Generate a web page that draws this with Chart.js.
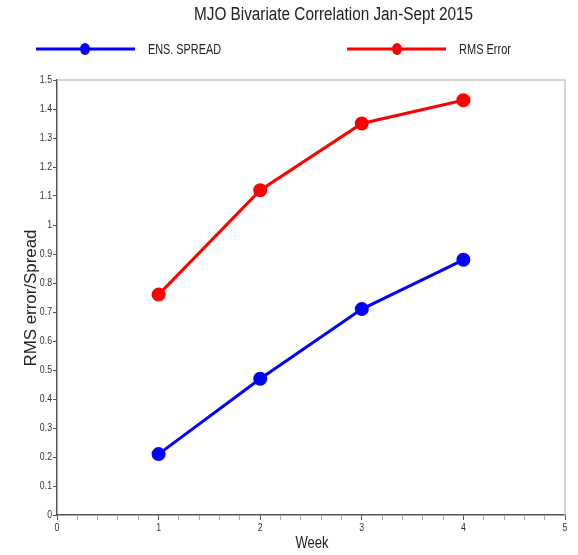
<!DOCTYPE html>
<html>
<head>
<meta charset="utf-8">
<script src="https://cdn.jsdelivr.net/npm/chart.js@4/dist/chart.umd.min.js"></script>
<style>
  html, body { margin: 0; padding: 0; background: #fff; }
  #wrap { width: 578px; height: 555px; position: relative; }
</style>
</head>
<body>
<div id="wrap"><canvas id="c" width="578" height="555"></canvas></div>
<script>
const titleText = "MJO Bivariate Correlation Jan-Sept 2015";
const weeks = [1, 2, 3, 4];
const ensSpread = [0.21, 0.47, 0.71, 0.88];
const rmsError = [0.76, 1.12, 1.35, 1.43];
const seriesNames = ["ENS. SPREAD", "RMS Error"];
const seriesColors = ["#0000ff", "#ff0000"];
const xTitle = "Week";
const yTitle = "RMS error/Spread";

const FONT = "'Liberation Sans', Arial, Helvetica, sans-serif";
const NARROW = 0.76;

function drawText(ctx, text, x, y, size, opts) {
  opts = opts || {};
  ctx.save();
  ctx.font = size + "px " + FONT;
  ctx.fillStyle = opts.color || '#222';
  ctx.textBaseline = 'middle';
  ctx.textAlign = 'left';
  const w = ctx.measureText(text).width;
  const sx = opts.width ? opts.width / w : NARROW;
  const drawnW = w * sx;
  ctx.translate(x, y);
  if (opts.rotate) ctx.rotate(opts.rotate);
  let left;
  if (opts.align === 'center') left = -drawnW / 2;
  else if (opts.align === 'right') left = -drawnW;
  else left = 0;
  ctx.translate(left, 0);
  ctx.scale(sx, 1);
  ctx.fillText(text, 0, 0);
  ctx.restore();
}

const isInt = v => Math.abs(v - Math.round(v)) < 1e-6;

const decorPlugin = {
  id: 'decor',
  afterDraw(chart) {
    const ctx = chart.ctx;
    const a = chart.chartArea;
    ctx.save();
    ctx.strokeStyle = '#c8c8c8';
    ctx.lineWidth = 1.5;
    ctx.beginPath();
    ctx.moveTo(a.left, a.top);
    ctx.lineTo(a.right, a.top);
    ctx.lineTo(a.right, a.bottom);
    ctx.stroke();
    ctx.restore();

    const xs = chart.scales.x, ys = chart.scales.y;
    xs.ticks.forEach(t => {
      if (isInt(t.value)) {
        drawText(ctx, String(Math.round(t.value)), xs.getPixelForValue(t.value), 528, 11.5, {align: 'center', color: '#333'});
      }
    });
    ys.ticks.forEach(t => {
      drawText(ctx, String(Number(t.value.toFixed(1))), 52, ys.getPixelForValue(t.value), 11.5, {align: 'right', color: '#333'});
    });

    drawText(ctx, titleText, 333.5, 15, 18, {align: 'center', width: 279});
    drawText(ctx, xTitle, 312, 543, 17, {align: 'center', width: 33});
    drawText(ctx, yTitle, 31, 298, 17, {align: 'center', width: 137, rotate: -Math.PI / 2});

    const legend = [
      {x0: 36, x1: 135, dot: 85, tx: 148, tw: 73, name: seriesNames[0], color: seriesColors[0]},
      {x0: 347, x1: 446, dot: 397, tx: 459, tw: 52, name: seriesNames[1], color: seriesColors[1]}
    ];
    const ly = 49;
    legend.forEach(l => {
      ctx.save();
      ctx.strokeStyle = l.color;
      ctx.lineWidth = 3;
      ctx.beginPath();
      ctx.moveTo(l.x0, ly);
      ctx.lineTo(l.x1, ly);
      ctx.stroke();
      ctx.fillStyle = l.color;
      ctx.beginPath();
      ctx.ellipse(l.dot, ly, 5, 6, 0, 0, Math.PI * 2);
      ctx.fill();
      ctx.restore();
      drawText(ctx, l.name, l.tx, ly + 1, 14, {width: l.tw});
    });
  }
};

new Chart(document.getElementById('c'), {
  type: 'line',
  data: {
    datasets: [
      {
        label: seriesNames[0],
        data: weeks.map((w, i) => ({x: w, y: ensSpread[i]})),
        borderColor: seriesColors[0],
        backgroundColor: seriesColors[0],
        borderWidth: 3,
        pointRadius: 5.5,
        pointHoverRadius: 5.5,
        tension: 0
      },
      {
        label: seriesNames[1],
        data: weeks.map((w, i) => ({x: w, y: rmsError[i]})),
        borderColor: seriesColors[1],
        backgroundColor: seriesColors[1],
        borderWidth: 3,
        pointRadius: 5.5,
        pointHoverRadius: 5.5,
        tension: 0
      }
    ]
  },
  options: {
    responsive: false,
    animation: false,
    layout: { padding: { top: 80, right: 13, left: 0, bottom: 0 } },
    plugins: {
      legend: { display: false },
      title: { display: false },
      tooltip: { enabled: false }
    },
    scales: {
      x: {
        type: 'linear',
        min: 0,
        max: 5,
        afterFit(s) { s.height = 40; },
        ticks: {
          stepSize: 0.2,
          autoSkip: false,
          maxRotation: 0,
          color: 'rgba(0,0,0,0)',
          font: { family: FONT, size: 10 },
          callback: v => isInt(v) ? String(Math.round(v)) : ''
        },
        grid: {
          drawOnChartArea: false,
          drawTicks: true,
          tickLength: 5,
          tickWidth: 1,
          tickColor: c => (c.tick && isInt(c.tick.value)) ? '#555' : '#aaa'
        },
        border: { color: '#555', width: 1.5 },
        title: { display: false }
      },
      y: {
        type: 'linear',
        min: 0,
        max: 1.5,
        afterFit(s) { s.width = 57; },
        ticks: {
          stepSize: 0.1,
          autoSkip: false,
          color: 'rgba(0,0,0,0)',
          font: { family: FONT, size: 10 },
          callback: v => String(Number(v.toFixed(1)))
        },
        grid: {
          drawOnChartArea: false,
          drawTicks: true,
          tickLength: 4,
          tickColor: '#555'
        },
        border: { color: '#555', width: 1.5 },
        title: { display: false }
      }
    }
  },
  plugins: [decorPlugin]
});
</script>
</body>
</html>
